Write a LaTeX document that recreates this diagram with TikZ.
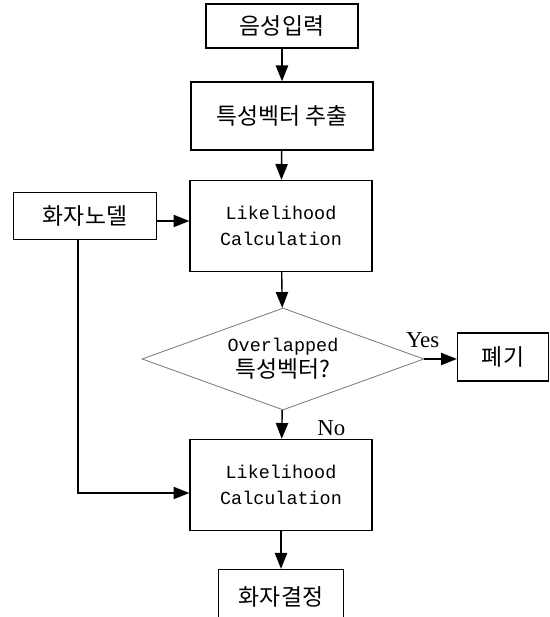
\documentclass[tikz,border=0pt]{standalone}
\usepackage{fontspec}
\setmainfont{Liberation Serif}
\newfontfamily\kor{Noto Sans CJK KR}
\newfontfamily\lat{Liberation Mono}
\usetikzlibrary{positioning,shapes.geometric,arrows.meta}

\begin{document}
\begin{tikzpicture}[
  x=0.02cm, y=-0.02cm,
  font=\kor\fontsize{13}{15}\selectfont,
  box/.style={draw, line width=0.8pt, minimum width=3.64cm, minimum height=1.36cm, align=center, inner sep=2pt},
  calc/.style={box, minimum height=1.82cm, font=\lat\fontsize{10.5}{15}\selectfont},
  decide/.style={diamond, draw=gray, line width=0.5pt, aspect=2.76, minimum width=5.64cm, minimum height=2.04cm, inner sep=0pt, align=center},
  arr/.style={-{Triangle[length=9pt, width=7pt]}, line width=0.8pt},
  lab/.style={font=\fontsize{13}{15}\selectfont},
]
\useasboundingbox (0,0) rectangle (549,617);
\clip (0,0) rectangle (549,617);

% main column
\node[box, minimum width=3.04cm, minimum height=0.88cm] (input) at (282,26) {음성입력};
\node[box] (feat) at (282,116) {특성벡터 추출};
\node[calc] (like1) at (281,226) {Likelihood\\Calculation};
\node[decide] (ovl) at (283,359) {{\lat\fontsize{10.5}{14}\selectfont Overlapped}\\특성벡터?};
\node[calc] (like2) at (281,485) {Likelihood\\Calculation};
\node[box, minimum width=2.5cm, minimum height=1.1cm] (dec) at (281,597) {화자결정};

% side boxes
\node[box, minimum width=2.86cm, minimum height=0.94cm] (model) at (85,216) {화자노델};
\node[box, minimum width=1.82cm, minimum height=0.96cm] (drop) at (503,357) {폐기};

\draw[arr] (input) -- (feat);
\draw[arr] (feat) -- (like1);
\draw[arr] (like1) -- (ovl);
\draw[arr] ([yshift=-0.1cm]model.east) -- ([yshift=-0.1cm]model.east -| like1.west);
\draw[arr] (ovl.east) -- (ovl.east -| drop.west);
\draw[arr] (ovl) -- (like2);
\draw[arr] ([xshift=-0.14cm]model.south) |- ([yshift=-0.16cm]like2.west);
\draw[arr] (like2) -- (dec);

% branch labels
\node[lab, above right=3pt and -14pt of ovl.east] (yes) {Yes};
\node[lab, below right=2pt and 16pt of ovl.south] (no) {No};

\end{tikzpicture}
\end{document}
